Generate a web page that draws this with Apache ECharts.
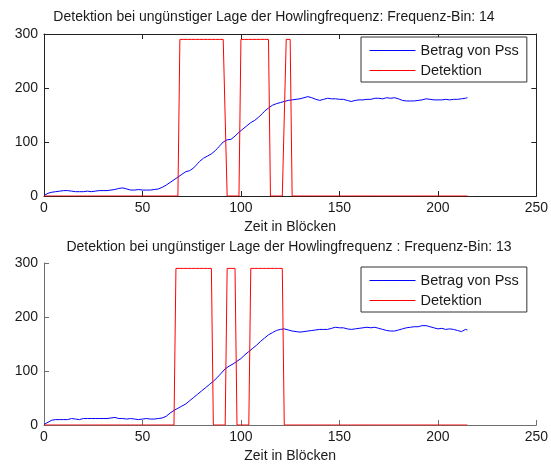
<!DOCTYPE html>
<html><head><meta charset="utf-8">
<script src="https://cdn.jsdelivr.net/npm/echarts@6/dist/echarts.min.js"></script>
<style>html,body{margin:0;padding:0;background:#fff}#c{width:551px;height:466px}</style>
</head><body><div id="c"></div>
<script>
const titleTop = 'Detektion bei ungünstiger Lage der Howlingfrequenz: Frequenz-Bin: 14';
const titleBottom = 'Detektion bei ungünstiger Lage der Howlingfrequenz : Frequenz-Bin: 13';
const xAxisName = 'Zeit in Blöcken';
const legendNames = ['Betrag von Pss', 'Detektion'];
const xMin = 0, xMax = 250, xStep = 50;
const yMin = 0, yMax = 300, yStep = 100;

// Betrag von Pss, top panel (block 0..215)
const pssTop = [
  1,4,5,6,7,8,8,9,9,10,
  10,9,10,10,9,9,8,9,8,8,
  8,8,9,9,8,9,9,10,10,9,
  10,11,10,12,11,12,12,13,14,15,
  15,14,13,12,11,12,11,11,12,11,
  11,12,11,12,11,12,12,13,13,14,
  16,18,20,22,25,27,30,32,35,37,
  40,42,45,47,47,49,52,56,60,64,
  67,70,73,74,76,78,80,84,88,92,
  96,100,103,104,104,105,108,111,114,118,
  121,124,127,130,133,136,138,140,143,146,
  149,153,157,160,163,166,168,170,171,172,
  173,174,175,176,177,178,178,179,179,180,
  180,181,182,183,184,183,182,181,179,178,
  177,178,179,180,181,180,180,181,180,180,
  179,178,179,178,177,176,175,176,177,178,
  178,177,178,179,179,180,179,180,181,180,
  181,181,180,181,182,182,181,182,182,181,
  180,179,177,176,176,177,176,177,176,177,
  177,178,178,179,180,181,179,178,178,179,
  178,179,178,178,179,179,178,178,179,178,
  179,180,180,181,181,182
];
// Detektion, top panel
const detTop = [
  0,0,0,0,0,0,0,0,0,0,
  0,0,0,0,0,0,0,0,0,0,
  0,0,0,0,0,0,0,0,0,0,
  0,0,0,0,0,0,0,0,0,0,
  0,0,0,0,0,0,0,0,0,0,
  0,0,0,0,0,0,0,0,0,0,
  0,0,0,0,0,0,0,0,0,290,
  290,290,290,290,290,290,290,290,290,290,
  290,290,290,290,290,290,290,290,290,290,
  290,290,290,0,0,0,0,0,0,0,
  290,290,290,290,290,290,290,290,290,290,
  290,290,290,290,290,0,0,0,0,0,
  0,0,0,290,290,290,0,0,0,0,
  0,0,0,0,0,0,0,0,0,0,
  0,0,0,0,0,0,0,0,0,0,
  0,0,0,0,0,0,0,0,0,0,
  0,0,0,0,0,0,0,0,0,0,
  0,0,0,0,0,0,0,0,0,0,
  0,0,0,0,0,0,0,0,0,0,
  0,0,0,0,0,0,0,0,0,0,
  0,0,0,0,0,0,0,0,0,0,
  0,0,0,0,0,0
];
// Betrag von Pss, bottom panel
const pssBottom = [
  1,3,5,7,9,10,10,11,10,10,
  10,10,10,11,12,12,11,11,10,11,
  12,12,12,13,12,12,12,13,12,11,
  12,13,12,12,13,14,14,13,12,12,
  12,12,11,12,12,11,11,10,10,11,
  11,11,12,11,11,12,11,11,12,12,
  13,14,16,19,22,25,27,29,31,33,
  35,37,39,42,45,48,51,54,57,60,
  63,66,69,72,75,78,81,84,88,92,
  96,100,104,107,109,111,113,116,118,121,
  123,126,130,133,136,139,142,145,148,151,
  155,158,161,164,167,169,171,173,175,176,
  177,178,178,177,176,175,174,173,173,172,
  172,173,173,174,174,175,175,176,176,176,
  177,176,177,178,177,178,179,180,181,181,
  180,179,180,179,178,178,177,177,178,178,
  179,179,180,180,181,181,180,180,181,180,
  179,178,177,176,175,175,174,174,174,175,
  176,177,178,179,180,180,181,181,182,182,
  182,183,184,184,184,183,182,181,180,179,
  178,178,179,178,177,177,178,177,177,176,
  175,174,173,175,177,176
];
// Detektion, bottom panel
const detBottom = [
  0,0,0,0,0,0,0,0,0,0,
  0,0,0,0,0,0,0,0,0,0,
  0,0,0,0,0,0,0,0,0,0,
  0,0,0,0,0,0,0,0,0,0,
  0,0,0,0,0,0,0,0,0,0,
  0,0,0,0,0,0,0,0,0,0,
  0,0,0,0,0,0,0,290,290,290,
  290,290,290,290,290,290,290,290,290,290,
  290,290,290,290,290,290,0,0,0,0,
  0,0,0,290,290,290,290,290,0,0,
  0,0,0,0,0,290,290,290,290,290,
  290,290,290,290,290,290,290,290,290,290,
  290,290,0,0,0,0,0,0,0,0,
  0,0,0,0,0,0,0,0,0,0,
  0,0,0,0,0,0,0,0,0,0,
  0,0,0,0,0,0,0,0,0,0,
  0,0,0,0,0,0,0,0,0,0,
  0,0,0,0,0,0,0,0,0,0,
  0,0,0,0,0,0,0,0,0,0,
  0,0,0,0,0,0,0,0,0,0,
  0,0,0,0,0,0,0,0,0,0,
  0,0,0,0,0,0
];

const FONT = 'Liberation Sans, Arial, sans-serif';
const TXT = '#1a1a1a';
const pairs = arr => arr.map((v, i) => [i, v]);

function xAx(grid, pos, color, showLabel, withName) {
  return {
    type: 'value', gridIndex: grid, position: pos, min: xMin, max: xMax, interval: xStep,
    axisLine: { show: true, onZero: false, lineStyle: { color: color, width: 1 } },
    axisTick: { show: true, inside: true, length: 5, lineStyle: { color: color } },
    axisLabel: { show: showLabel, margin: 5, color: TXT, fontSize: 14, fontFamily: FONT },
    splitLine: { show: false },
    name: withName ? xAxisName : '', nameLocation: 'middle', nameGap: 24,
    nameTextStyle: { color: TXT, fontSize: 14, fontFamily: FONT }
  };
}
function yAx(grid, pos, color, showLabel) {
  return {
    type: 'value', gridIndex: grid, position: pos, min: yMin, max: yMax, interval: yStep,
    axisLine: { show: true, onZero: false, lineStyle: { color: color, width: 1 } },
    axisTick: { show: true, inside: true, length: 5, lineStyle: { color: color } },
    axisLabel: { show: showLabel, margin: 6, color: TXT, fontSize: 14, fontFamily: FONT },
    splitLine: { show: false }
  };
}
function legendAt(top) {
  return {
    orient: 'vertical', left: 361, top: top, data: legendNames,
    itemWidth: 46, itemHeight: 14, itemGap: 5,
    padding: [6, 8, 4, 8],
    borderColor: '#333', borderWidth: 1, backgroundColor: '#fff',
    itemStyle: { opacity: 0 },
    lineStyle: { width: 1 },
    textStyle: { color: TXT, fontSize: 14.5, fontFamily: FONT },
    selectedMode: false
  };
}
const lineSer = (name, data, color, xi, yi) => ({
  name: name, type: 'line', data: pairs(data), xAxisIndex: xi, yAxisIndex: yi,
  symbol: 'none', showSymbol: false, lineStyle: { color: color, width: 1 },
  itemStyle: { color: color }, animation: false
});

const chart = echarts.init(document.getElementById('c'), null, { renderer: 'canvas' });
chart.setOption({
  backgroundColor: '#fff',
  animation: false,
  title: [
    { text: titleTop, left: 274, top: 10, textAlign: 'center', padding: 0,
      textStyle: { color: TXT, fontSize: 14, fontWeight: 'normal', fontFamily: FONT } },
    { text: titleBottom, left: 289, top: 240, textAlign: 'center', padding: 0,
      textStyle: { color: TXT, fontSize: 14, fontWeight: 'normal', fontFamily: FONT } }
  ],
  grid: [
    { left: 44, top: 34, width: 495, height: 162 },
    { left: 44, top: 263, width: 495, height: 162 }
  ],
  xAxis: [
    xAx(0, 'bottom', '#222', true, true),
    xAx(0, 'top', '#222', false, false),
    xAx(1, 'bottom', '#6e6e6e', true, true)
  ],
  yAxis: [
    yAx(0, 'left', '#222', true),
    yAx(0, 'right', '#222', false),
    yAx(1, 'left', '#6e6e6e', true)
  ],
  legend: [legendAt(37), legendAt(267)],
  series: [
    lineSer(legendNames[0], pssTop, '#0000ff', 0, 0),
    lineSer(legendNames[1], detTop, '#ff0000', 0, 0),
    lineSer(legendNames[0], pssBottom, '#0000ff', 2, 2),
    lineSer(legendNames[1], detBottom, '#ff0000', 2, 2)
  ]
});
</script></body></html>
